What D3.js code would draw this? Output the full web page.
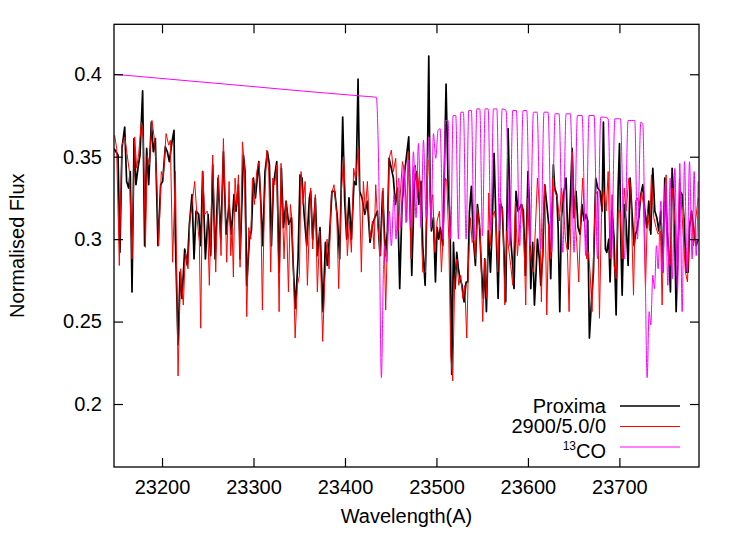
<!DOCTYPE html>
<html>
<head>
<meta charset="utf-8">
<script src="https://cdn.jsdelivr.net/npm/d3@7"></script>
<style>
  body { margin: 0; background: #fff; }
  svg text { font-family: "Liberation Sans", Arial, Helvetica, sans-serif; fill: #000; }
</style>
</head>
<body>
<div id="chart"></div>
<script>
// wavelength (A), normalised flux
var proxima = [
  [23147.5,0.355],[23149.7,0.353],[23151.9,0.351],[23154.0,0.292],[23156.2,0.355],[23159.2,0.368],[23161.3,0.335],[23163.5,0.331],
  [23165.3,0.341],[23167.2,0.268],[23169.4,0.361],[23171.5,0.333],[23173.7,0.343],[23175.9,0.351],[23178.8,0.390],[23181.0,0.296],
  [23183.2,0.355],[23185.4,0.333],[23188.3,0.371],[23190.5,0.353],[23192.7,0.361],[23195.6,0.296],[23198.5,0.333],[23200.7,0.335],
  [23203.6,0.356],[23205.8,0.353],[23208.0,0.347],[23210.9,0.359],[23213.1,0.366],[23214.6,0.300],[23217.5,0.236],[23219.7,0.280],
  [23221.8,0.264],[23224.8,0.294],[23227.7,0.284],[23229.9,0.309],[23232.8,0.327],[23235.0,0.288],[23237.2,0.317],[23240.1,0.315],
  [23242.3,0.296],[23244.4,0.341],[23247.4,0.288],[23250.3,0.315],[23253.2,0.290],
  [23255.4,0.345],[23258.0,0.288],[23261.3,0.337],[23264.2,0.300],[23267.1,0.353],[23270.0,0.303],[23273.3,0.321],[23275.8,0.303],
  [23278.7,0.327],[23280.9,0.317],[23283.5,0.333],[23285.3,0.288],[23289.0,0.351],[23290.8,0.341],[23292.6,0.272],[23295.5,0.300],
  [23297.7,0.305],[23299.9,0.337],[23302.1,0.325],[23305.7,0.347],[23307.9,0.323],[23310.1,0.296],[23312.6,0.341],[23315.2,0.353],
  [23317.4,0.345],[23319.6,0.296],[23321.8,0.333],[23325.4,0.347],[23328.0,0.280],[23330.5,0.343],[23332.7,0.307],[23335.6,0.323],
  [23338.5,0.309],[23341.4,0.313],[23343.6,0.282],[23345.8,0.258],[23348.7,0.288],[23350.9,0.339],[23353.1,0.337],[23355.3,0.315],
  [23358.2,0.296],[23361.1,0.325],
  [23362.5,0.329],[23364.7,0.300],[23367.6,0.325],[23369.8,0.290],[23372.7,0.307],[23376.0,0.256],[23378.6,0.298],[23380.7,0.284],
  [23382.9,0.300],[23385.8,0.329],[23388.8,0.329],[23391.7,0.313],[23394.2,0.288],[23397.5,0.374],[23399.7,0.323],[23401.9,0.300],
  [23404.4,0.325],[23407.0,0.300],[23409.9,0.335],[23412.1,0.333],[23414.3,0.397],[23416.1,0.329],[23418.6,0.325],[23421.6,0.315],
  [23424.5,0.323],[23427.4,0.298],[23430.3,0.309],[23432.5,0.313],[23435.4,0.317],[23438.3,0.290],[23441.2,0.329],[23444.2,0.290],
  [23446.4,0.305],[23448.2,0.349],[23450.7,0.343],[23452.9,0.337],[23455.1,0.321],[23457.3,0.331],[23459.8,0.270],[23462.4,0.321],
  [23465.3,0.341],
  [23469.7,0.362],[23473.0,0.278],[23475.9,0.335],[23478.5,0.341],[23480.7,0.321],[23483.2,0.335],[23485.0,0.296],[23487.6,0.272],
  [23489.4,0.317],[23491.6,0.411],[23493.0,0.333],[23494.5,0.305],[23496.7,0.313],[23498.9,0.274],[23500.7,0.307],[23502.5,0.300],
  [23504.3,0.307],[23506.9,0.296],[23508.4,0.335],[23510.5,0.394],[23512.7,0.333],[23514.9,0.311],[23516.7,0.218],[23518.6,0.298],
  [23520.4,0.270],[23522.2,0.292],[23524.0,0.282],[23525.8,0.276],[23528.0,0.272],[23530.2,0.262],[23532.4,0.274],[23534.2,0.274],
  [23536.1,0.317],[23538.2,0.332],[23540.4,0.300],[23542.6,0.284],[23544.8,0.321],[23547.0,0.309],[23549.2,0.282],[23551.4,0.264],
  [23552.8,0.288],[23554.6,0.256],[23556.8,0.305],[23559.0,0.280],[23560.8,0.305],[23563.0,0.352],[23565.2,0.307],[23567.4,0.264],
  [23569.6,0.321],[23571.8,0.319],[23574.0,0.290],
  [23575.7,0.262],[23578.3,0.367],[23581.2,0.300],[23583.4,0.284],[23584.8,0.270],[23587.0,0.329],[23589.2,0.317],[23592.9,0.321],
  [23595.0,0.317],[23597.2,0.278],[23600.1,0.341],[23601.6,0.321],[23603.1,0.270],[23605.2,0.298],[23607.1,0.260],[23608.9,0.280],
  [23610.4,0.300],[23612.5,0.288],[23614.0,0.272],[23616.2,0.290],[23618.4,0.333],[23620.6,0.321],[23623.1,0.307],[23624.9,0.276],
  [23627.8,0.345],[23629.3,0.331],[23631.5,0.327],[23633.0,0.307],[23634.8,0.256],[23636.6,0.313],[23639.5,0.329],[23641.7,0.337],
  [23643.9,0.294],[23646.1,0.321],[23648.3,0.355],[23650.4,0.313],[23652.6,0.329],[23654.8,0.307],[23657.0,0.303],[23659.2,0.321],
  [23661.4,0.311],[23663.6,0.315],[23665.4,0.311],[23667.2,0.240],[23669.4,0.262],[23671.6,0.280],[23674.1,0.337],[23676.3,0.331],
  [23678.9,0.329],[23681.1,0.317],[23682.5,0.371],
  [23684.7,0.294],[23686.2,0.292],[23688.4,0.300],[23689.8,0.274],[23692.0,0.317],[23694.2,0.300],[23696.4,0.254],[23698.6,0.331],
  [23700.1,0.358],[23701.5,0.300],[23703.0,0.266],[23705.2,0.321],[23707.3,0.311],[23709.5,0.284],[23711.7,0.337],[23713.9,0.315],
  [23716.1,0.296],[23717.5,0.303],[23719.0,0.305],[23721.2,0.313],[23723.4,0.327],[23725.6,0.333],[23727.8,0.317],[23729.9,0.307],
  [23732.1,0.323],[23734.3,0.303],[23736.5,0.343],[23738.7,0.317],[23740.9,0.313],[23743.1,0.305],[23745.3,0.317],[23747.4,0.280],
  [23749.6,0.337],[23751.8,0.307],[23754.0,0.292],[23755.8,0.268],[23757.6,0.343],[23759.8,0.321],[23762.0,0.256],[23764.2,0.296],
  [23766.4,0.329],[23768.6,0.327],[23770.8,0.311],[23773.0,0.280],[23775.1,0.280],[23776.6,0.307],[23778.8,0.317],[23781.3,0.305],
  [23783.9,0.296],[23786.1,0.300]
];

var model2900 = [
  [23148.2,0.363],[23150.4,0.355],[23153.3,0.284],[23156.2,0.357],[23159.2,0.362],[23161.7,0.352],[23164.3,0.341],[23167.2,0.288],
  [23170.1,0.362],[23172.3,0.343],[23174.5,0.352],[23177.4,0.371],[23179.6,0.361],[23181.8,0.295],[23183.9,0.351],[23186.1,0.345],
  [23189.0,0.372],[23192.0,0.359],[23194.1,0.337],[23196.3,0.296],[23199.2,0.341],[23201.4,0.337],[23204.4,0.364],[23207.3,0.357],
  [23209.1,0.360],[23211.6,0.286],[23214.6,0.341],[23217.5,0.217],[23220.4,0.282],[23223.3,0.260],[23225.5,0.292],[23228.4,0.282],
  [23230.6,0.313],[23232.8,0.321],[23235.7,0.335],[23238.6,0.311],[23240.8,0.298],[23242.3,0.246],[23244.4,0.341],[23246.6,0.315],
  [23249.5,0.317],[23251.7,0.272],
  [23255.4,0.351],[23258.7,0.280],[23261.6,0.339],[23264.5,0.290],[23267.1,0.361],[23270.7,0.286],[23273.3,0.335],[23275.1,0.290],
  [23276.6,0.307],[23278.0,0.277],[23279.8,0.337],[23281.7,0.321],[23283.5,0.339],[23285.3,0.283],[23287.9,0.359],[23290.0,0.345],
  [23292.6,0.253],[23294.8,0.307],[23297.0,0.300],[23298.8,0.337],[23301.0,0.321],[23303.5,0.341],[23306.1,0.347],[23307.9,0.323],
  [23309.7,0.257],[23311.9,0.321],[23314.5,0.354],[23316.7,0.341],[23318.8,0.280],[23321.0,0.337],[23323.2,0.333],[23325.4,0.345],
  [23328.0,0.256],[23330.1,0.346],[23332.0,0.311],[23333.4,0.288],[23335.6,0.323],[23338.2,0.268],[23340.3,0.321],[23342.2,0.311],
  [23345.5,0.240],[23348.0,0.272],[23350.2,0.278],[23352.0,0.341],[23354.2,0.321],[23356.4,0.335],[23358.9,0.272],
  [23362.5,0.331],[23364.7,0.294],[23367.6,0.327],[23369.8,0.268],[23372.4,0.305],[23375.6,0.238],[23377.8,0.274],[23380.4,0.300],
  [23382.6,0.282],[23385.1,0.327],[23388.0,0.333],[23391.0,0.315],[23393.1,0.270],[23396.1,0.329],[23398.6,0.350],[23400.8,0.321],
  [23402.6,0.290],[23404.8,0.311],[23407.0,0.292],[23409.5,0.343],[23411.7,0.335],[23414.3,0.355],[23415.7,0.335],[23417.9,0.280],
  [23420.1,0.335],[23422.3,0.317],[23424.5,0.335],[23427.4,0.300],[23430.0,0.311],[23431.8,0.294],[23433.6,0.333],[23436.1,0.307],
  [23439.1,0.290],[23441.6,0.331],[23444.5,0.257],[23446.4,0.300],[23448.2,0.349],[23450.7,0.354],[23452.9,0.341],[23455.5,0.349],
  [23458.0,0.305],[23460.2,0.325],[23462.8,0.347],[23465.3,0.341],[23467.5,0.311],
  [23469.0,0.353],[23472.3,0.288],[23474.8,0.343],[23477.0,0.345],[23479.2,0.325],[23481.4,0.341],[23485.0,0.280],[23488.0,0.280],
  [23490.1,0.349],[23491.6,0.347],[23493.4,0.319],[23496.0,0.327],[23498.2,0.292],[23500.7,0.311],[23503.3,0.317],[23505.4,0.280],
  [23507.6,0.305],[23509.8,0.337],[23511.3,0.335],[23513.5,0.300],[23515.6,0.230],[23517.8,0.214],[23520.0,0.276],[23522.2,0.288],
  [23524.4,0.272],[23526.6,0.278],[23528.8,0.264],[23531.0,0.272],[23533.1,0.240],[23535.0,0.286],[23537.1,0.313],[23539.0,0.298],
  [23540.8,0.300],[23542.6,0.288],[23544.8,0.319],[23547.7,0.305],[23550.6,0.250],[23552.8,0.288],[23555.0,0.264],[23557.2,0.328],
  [23559.0,0.296],[23560.8,0.313],[23563.4,0.317],[23565.2,0.309],[23567.0,0.280],[23569.6,0.325],[23572.5,0.317],[23574.7,0.260],
  [23576.8,0.305],[23579.0,0.294],[23581.2,0.284],[23583.4,0.272],[23586.3,0.323],[23588.5,0.290],[23590.7,0.307],[23593.6,0.321],
  [23595.8,0.298],[23597.6,0.260],[23599.4,0.325],[23601.6,0.300],[23603.8,0.284],[23606.0,0.280],[23608.2,0.307],[23610.4,0.337],
  [23612.5,0.321],[23614.7,0.262],[23616.9,0.315],[23618.4,0.333],[23620.6,0.254],[23622.7,0.309],[23624.9,0.288],[23627.1,0.337],
  [23629.3,0.329],[23632.2,0.325],[23634.4,0.311],[23636.6,0.331],[23638.8,0.321],[23641.0,0.300],[23643.2,0.292],[23645.0,0.256],
  [23646.8,0.307],[23648.6,0.353],[23651.2,0.313],[23653.4,0.298],[23655.5,0.274],[23657.7,0.313],[23659.9,0.337],[23662.1,0.309],
  [23664.3,0.288],[23666.1,0.292],[23667.9,0.280],[23670.1,0.256],[23671.6,0.288],[23673.8,0.327],[23676.0,0.329],[23678.2,0.252],
  [23680.3,0.313],[23682.5,0.331],
  [23685.5,0.317],[23687.7,0.341],[23689.8,0.288],[23692.0,0.327],[23694.2,0.284],[23696.4,0.276],[23698.6,0.317],[23700.8,0.317],
  [23703.0,0.288],[23705.2,0.331],[23707.3,0.317],[23710.3,0.337],[23712.4,0.331],[23715.4,0.266],[23717.5,0.323],[23719.7,0.325],
  [23721.9,0.319],[23724.1,0.329],[23726.3,0.321],[23728.5,0.270],[23730.7,0.317],[23732.9,0.305],[23735.0,0.339],[23737.6,0.313],
  [23740.1,0.307],[23742.3,0.303],[23744.9,0.305],[23746.7,0.260],[23748.9,0.321],[23751.1,0.339],[23753.3,0.290],[23755.5,0.284],
  [23757.6,0.331],[23759.8,0.317],[23761.3,0.307],[23763.5,0.284],[23765.7,0.337],[23767.9,0.321],[23770.0,0.300],[23772.2,0.280],
  [23774.4,0.274],[23776.6,0.307],[23778.8,0.317],[23781.0,0.296],[23783.2,0.311],[23786.1,0.325]
];

var co13 = [
  [23147.5,0.400],[23290.0,0.393],[23420.0,0.3867],[23432.0,0.3862],[23434.3,0.386],[23436.9,0.341],[23439.8,0.216],[23442.0,0.280],[23443.4,0.296],[23445.6,0.286],[23448.5,0.317],
  [23450.7,0.296],[23453.6,0.327],[23455.8,0.300],[23458.7,0.337],[23460.9,0.307],[23464.2,0.345],[23466.8,0.310],[23469.7,0.348],
  [23472.3,0.307],[23474.8,0.353],[23477.7,0.313],[23480.3,0.358],[23483.2,0.307],[23485.8,0.360],[23488.7,0.313],[23491.6,0.362],
  [23494.1,0.307],[23496.7,0.364],[23499.2,0.349],[23501.8,0.366],[23504.0,0.367],[23507.3,0.300],[23509.8,0.372],[23512.7,0.372],
  [23515.6,0.300],[23518.2,0.375],[23521.1,0.375],[23524.0,0.300],[23526.6,0.377],[23529.5,0.377],[23532.4,0.300],[23535.3,0.378],
  [23538.2,0.378],[23541.2,0.300],[23544.1,0.379],[23547.4,0.379],[23550.3,0.302],[23553.2,0.379],[23556.5,0.379],[23559.4,0.305],
  [23562.3,0.379],[23566.0,0.379],[23568.9,0.305],[23571.8,0.379],[23576.1,0.378],[23580.1,0.296],[23583.4,0.378],[23587.4,0.378],
  [23591.0,0.296],[23594.7,0.378],[23598.7,0.378],[23602.3,0.296],[23606.0,0.377],[23610.0,0.377],[23614.0,0.294],[23617.6,0.377],
  [23622.0,0.377],[23626.0,0.292],[23629.7,0.376],[23634.0,0.376],[23638.1,0.292],[23641.7,0.376],[23646.4,0.376],[23650.4,0.292],
  [23654.1,0.375],[23659.2,0.375],[23663.2,0.290],[23666.8,0.375],[23672.3,0.375],[23676.0,0.288],[23679.6,0.374],[23682.9,0.374],
  [23687.7,0.373],[23691.3,0.288],[23695.0,0.373],[23701.1,0.373],[23705.5,0.288],[23709.5,0.372],[23716.8,0.372],[23719.7,0.300],
  [23723.4,0.371],[23725.6,0.370],[23727.8,0.300],[23730.3,0.216],[23732.5,0.256],[23734.3,0.248],[23736.5,0.278],[23738.3,0.270],
  [23740.5,0.296],[23742.3,0.282],[23745.3,0.323],[23747.4,0.280],[23750.4,0.335],[23752.9,0.272],[23755.5,0.337],[23758.0,0.276],
  [23760.6,0.343],[23763.5,0.268],[23766.0,0.346],[23768.6,0.256],[23771.1,0.347],[23774.0,0.280],[23776.6,0.347],[23779.5,0.288],
  [23781.7,0.341],[23783.9,0.290],[23786.1,0.335]
];

var xTicks = [23200, 23300, 23400, 23500, 23600, 23700];
var yTicks = [0.2, 0.25, 0.3, 0.35, 0.4];
var legendNames = ["Proxima", "2900/5.0/0", "CO"];
var colors = ["#000000", "#ff0000", "#ff00ff"];

function init(){
	var w = 747;
	var h = 534;
	var left = 114, right = 699, top = 24.3, bottom = 467;

	var xScale = d3.scaleLinear()
					.domain([23147.5, 23787])
					.range([left, right]);
	var yScale = d3.scaleLinear()
					.domain([0.1618, 0.4303])
					.range([bottom, top]);

	var svg = d3.select("#chart")
				.append("svg")
				.attr("width", w)
				.attr("height", h);

	svg.append("clipPath")
		.attr("id", "plotclip")
		.append("rect")
		.attr("x", left)
		.attr("y", top)
		.attr("width", right - left)
		.attr("height", bottom - top);

	//spectra, black first then red then magenta on top
	var line = d3.line()
				.x(function(d){ return xScale(d[0]); })
				.y(function(d){ return yScale(d[1]); });
	var smooth = d3.line()
				.curve(d3.curveMonotoneX)
				.x(function(d){ return xScale(d[0]); })
				.y(function(d){ return yScale(d[1]); });

	var plot = svg.append("g").attr("clip-path", "url(#plotclip)");
	plot.append("path").datum(proxima)
		.attr("d", line).attr("fill", "none")
		.attr("stroke", colors[0]).attr("stroke-width", 1.7)
		.attr("stroke-linejoin", "round");
	plot.append("path").datum(model2900)
		.attr("d", line).attr("fill", "none")
		.attr("stroke", colors[1]).attr("stroke-width", 1)
		.attr("stroke-linejoin", "round");
	plot.append("path").datum(co13)
		.attr("d", smooth).attr("fill", "none")
		.attr("stroke", colors[2]).attr("stroke-width", 1)
		.attr("stroke-linejoin", "round");

	//axes, ticks pointing inwards on all four sides
	var fmt = function(d){ return String(d); };
	svg.append("g")
		.attr("transform", "translate(0," + bottom + ")")
		.call(d3.axisBottom(xScale).tickValues(xTicks).tickSize(-9).tickPadding(13).tickFormat(fmt));
	svg.append("g")
		.attr("transform", "translate(0," + top + ")")
		.call(d3.axisTop(xScale).tickValues(xTicks).tickSize(-9).tickFormat(""));
	svg.append("g")
		.attr("transform", "translate(" + left + ",0)")
		.call(d3.axisLeft(yScale).tickValues(yTicks).tickSize(-9).tickPadding(12).tickFormat(fmt));
	svg.append("g")
		.attr("transform", "translate(" + right + ",0)")
		.call(d3.axisRight(yScale).tickValues(yTicks).tickSize(-9).tickFormat(""));

	svg.selectAll(".domain").remove();
	svg.selectAll(".tick line").attr("stroke", "#000").attr("stroke-width", 1.2);
	svg.selectAll(".tick text").attr("font-size", "20px")
		.style("font-family", "'Liberation Sans', Arial, sans-serif");

	svg.append("rect")
		.attr("x", left).attr("y", top)
		.attr("width", right - left).attr("height", bottom - top)
		.attr("fill", "none").attr("stroke", "#000").attr("stroke-width", 1.3);

	//axis titles
	svg.append("text")
		.attr("x", (left + right) / 2)
		.attr("y", 523)
		.attr("text-anchor", "middle")
		.attr("font-size", "20px")
		.text("Wavelength(A)");
	svg.append("text")
		.attr("transform", "translate(23.5," + ((top + bottom) / 2) + ") rotate(-90)")
		.attr("text-anchor", "middle")
		.attr("font-size", "20px")
		.text("Normalised Flux");

	//legend
	var rowY = [406, 426.5, 447];
	var textY = [412.7, 432.7, 457.5];
	var legend = svg.append("g");
	legendNames.forEach(function(name, i){
		legend.append("line")
			.attr("x1", 620).attr("x2", 680)
			.attr("y1", rowY[i]).attr("y2", rowY[i])
			.attr("stroke", colors[i])
			.attr("stroke-width", i === 0 ? 1.7 : 1);
		var t = legend.append("text")
			.attr("x", 606)
			.attr("y", textY[i])
			.attr("text-anchor", "end")
			.attr("font-size", "20px");
		if (i === 2) {
			t.append("tspan").attr("font-size", "12px").attr("dy", -7.5).text("13");
			t.append("tspan").attr("dy", 7.5).text(name);
		} else {
			t.text(name);
		}
	});
}

window.onload = init;
</script>
</body>
</html>
